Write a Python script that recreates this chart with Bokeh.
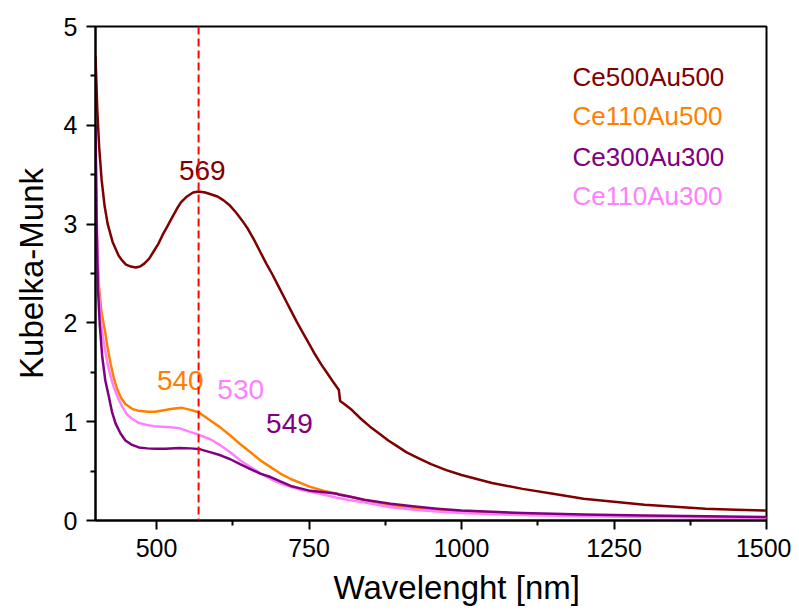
from bokeh.plotting import figure
from bokeh.models import FixedTicker, Span, ColumnDataSource, Range1d, Title
from bokeh.core.properties import value
from bokeh.embed import file_html
from bokeh.resources import INLINE

FONT = "Liberation Sans"

# Ce500Au500
wl_a = [400, 403, 406, 410, 415, 420, 428, 438, 444, 450, 458, 466, 473, 480, 488, 495, 503, 510, 518, 525,
        533, 540, 550, 560, 569, 580, 590, 600, 610, 620, 630, 640, 650, 660, 670, 680, 690, 700, 710, 720,
        730, 740, 750, 760, 770, 780, 790, 799, 801, 810, 820, 835, 850, 865, 880, 895, 910, 930, 950, 975,
        1000, 1050, 1100, 1150, 1200, 1250, 1300, 1350, 1400, 1450, 1500]
km_a = [4.70, 4.15, 3.78, 3.45, 3.18, 3.00, 2.82, 2.68, 2.63, 2.59, 2.57, 2.56, 2.57, 2.60, 2.65, 2.72, 2.80,
        2.89, 2.98, 3.06, 3.15, 3.22, 3.28, 3.32, 3.33, 3.32, 3.30, 3.28, 3.24, 3.19, 3.12, 3.04, 2.95, 2.84,
        2.72, 2.60, 2.49, 2.37, 2.25, 2.13, 2.01, 1.90, 1.79, 1.68, 1.58, 1.49, 1.40, 1.32, 1.21, 1.17, 1.12,
        1.03, 0.95, 0.88, 0.81, 0.75, 0.69, 0.63, 0.57, 0.51, 0.46, 0.38, 0.32, 0.27, 0.22, 0.19, 0.16, 0.14,
        0.12, 0.11, 0.10]

# Ce110Au500
wl_b = [400, 403, 406, 410, 416, 420, 425, 430, 436, 442, 449, 460, 471, 485, 498, 512, 526, 542, 556, 569,
        589, 605, 621, 637, 654, 670, 687, 703, 720, 736, 752, 775, 796, 818, 840, 862, 884, 920, 960, 1000,
        1100, 1200, 1300, 1400, 1500]
km_b = [3.40, 2.70, 2.35, 2.10, 1.90, 1.74, 1.58, 1.44, 1.32, 1.24, 1.18, 1.13, 1.11, 1.10, 1.10, 1.115, 1.13,
        1.14, 1.12, 1.095, 1.01, 0.94, 0.86, 0.775, 0.69, 0.61, 0.54, 0.475, 0.42, 0.38, 0.34, 0.30, 0.27,
        0.24, 0.21, 0.18, 0.15, 0.125, 0.10, 0.085, 0.062, 0.05, 0.042, 0.036, 0.03]

# Ce300Au300
wl_c = [400, 402, 404, 407, 411, 416, 422, 427, 433, 441, 449, 460, 471, 485, 498, 515, 537, 556, 572, 589,
        605, 621, 637, 654, 670, 687, 703, 720, 736, 752, 775, 796, 800, 818, 840, 862, 884, 920, 960, 1000,
        1100, 1200, 1300, 1400, 1500]
km_c = [4.00, 2.95, 2.35, 1.98, 1.66, 1.42, 1.25, 1.10, 0.98, 0.88, 0.81, 0.765, 0.74, 0.73, 0.725, 0.725,
        0.735, 0.73, 0.72, 0.69, 0.66, 0.62, 0.57, 0.52, 0.475, 0.44, 0.395, 0.35, 0.325, 0.30, 0.285, 0.27,
        0.26, 0.24, 0.21, 0.19, 0.17, 0.145, 0.12, 0.10, 0.075, 0.06, 0.05, 0.042, 0.035]

# Ce110Au300
wl_d = [400, 402, 404, 407, 411, 415, 420, 425, 430, 437, 444, 452, 460, 470, 482, 495, 509, 523, 537, 556,
        569, 589, 605, 621, 637, 654, 670, 687, 703, 720, 736, 752, 775, 796, 818, 840, 862, 884, 920, 960,
        1000, 1100, 1200, 1300, 1400, 1500]
km_d = [3.90, 3.10, 2.55, 2.15, 1.90, 1.75, 1.58, 1.45, 1.35, 1.24, 1.15, 1.07, 1.03, 0.99, 0.97, 0.955, 0.95,
        0.945, 0.935, 0.895, 0.87, 0.82, 0.76, 0.69, 0.61, 0.54, 0.48, 0.42, 0.375, 0.34, 0.31, 0.29, 0.26,
        0.23, 0.205, 0.185, 0.16, 0.135, 0.11, 0.09, 0.075, 0.055, 0.043, 0.035, 0.03, 0.025]

series_names = ["Ce500Au500", "Ce110Au500", "Ce300Au300", "Ce110Au300"]
series_colors = ["#800000", "#FF8000", "#800080", "#FF80FF"]

peak_labels = ["569", "540", "530", "549"]
peak_x = [575, 539, 638, 718]
peak_y = [3.54, 1.42, 1.33, 0.98]
peak_colors = ["#800000", "#FF8000", "#FF80FF", "#800080"]

legend_x = [1182, 1182, 1182, 1182]
legend_y = [4.49, 4.09, 3.68, 3.28]

marker_wl = 569

x_title = "Wavelenght [nm]"
y_title = "Kubelka-Munk"

x_major = [500, 750, 1000, 1250, 1500]
x_minor = [625, 875, 1125, 1375]
y_major = [0, 1, 2, 3, 4, 5]
y_minor = [0.5, 1.5, 2.5, 3.5, 4.5]

p = figure(width=791, height=612, output_backend="svg", toolbar_location=None,
           x_range=Range1d(400, 1500), y_range=Range1d(0, 5),
           min_border_left=95, min_border_right=25, min_border_top=26, min_border_bottom=92)
p.background_fill_color = "white"
p.border_fill_color = "white"
p.outline_line_color = "black"
p.outline_line_width = 2
p.xgrid.visible = False
p.ygrid.visible = False

p.xaxis.ticker = FixedTicker(ticks=x_major, minor_ticks=x_minor)
p.yaxis.ticker = FixedTicker(ticks=y_major, minor_ticks=y_minor)
for ax in (p.xaxis[0], p.yaxis[0]):
    ax.axis_line_width = 2
    ax.major_tick_line_width = 2
    ax.minor_tick_line_width = 2
    ax.major_tick_out = 9
    ax.major_tick_in = 0
    ax.minor_tick_out = 5
    ax.minor_tick_in = 0
    ax.major_label_text_font = FONT
    ax.major_label_text_font_size = "25px"
    ax.major_label_text_color = "black"
    ax.axis_label_text_font = FONT
    ax.axis_label_text_font_size = "33px"
    ax.axis_label_text_font_style = "normal"
    ax.axis_label_text_color = "black"
p.yaxis.axis_label = y_title
p.xaxis.major_label_standoff = 9
p.yaxis.major_label_standoff = 9
p.yaxis.axis_label_standoff = 11

# x-axis title sits right of centre in the original
p.add_layout(Title(text=x_title, align="left", offset=238, text_font=FONT, text_font_size="33px",
                   text_font_style="normal", text_color="black", standoff=14), "below")

p.add_layout(Span(location=marker_wl, dimension="height", line_color="#FF0000",
                  line_width=2, line_dash="8 4"))

for wl, km, col in [(wl_a, km_a, series_colors[0]), (wl_b, km_b, series_colors[1]),
                    (wl_d, km_d, series_colors[3]), (wl_c, km_c, series_colors[2])]:
    p.line(wl, km, line_color=col, line_width=2.5, line_join="round")

src_peak = ColumnDataSource(dict(x=peak_x, y=peak_y, t=peak_labels, c=peak_colors))
p.text(x="x", y="y", text="t", text_color="c", source=src_peak, text_align="center",
       text_baseline="middle", text_font=value(FONT), text_font_size="28px")

src_leg = ColumnDataSource(dict(x=legend_x, y=legend_y, t=series_names, c=series_colors))
p.text(x="x", y="y", text="t", text_color="c", source=src_leg, text_align="left",
       text_baseline="middle", text_font=value(FONT), text_font_size="26px")

open("out.html", "w").write(file_html(p, INLINE))
